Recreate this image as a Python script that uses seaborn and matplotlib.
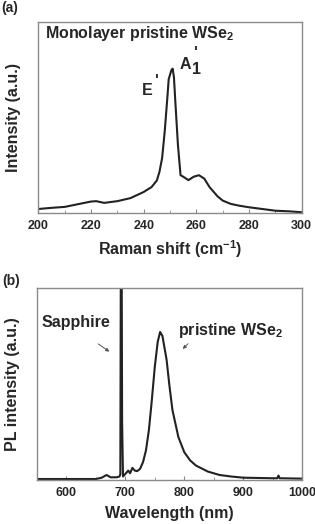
import numpy as np
import pandas as pd
import matplotlib
matplotlib.use("Agg")
import matplotlib.pyplot as plt
import seaborn as sns
from matplotlib.ticker import MultipleLocator

# Raman spectrum (panel a), intensity in arbitrary units
raman_shift = [200, 205, 210, 215, 220, 222, 225, 230, 235, 240, 243, 245, 246, 247,
               248, 249, 249.5, 250.5, 251, 251.5, 252, 253, 254, 255, 257, 259, 261,
               263, 265, 268, 270, 273, 276, 280, 285, 290, 295, 300]
raman_int = [2.1, 2.7, 3.2, 4.6, 6.0, 6.2, 5.3, 6.2, 7.8, 11.0, 13.6, 17.0, 21.6, 28.7,
             42.8, 60.5, 70.0, 74.7, 75.6, 71.0, 58.8, 35.8, 19.8, 19.0, 17.2, 19.0, 19.8,
             18.0, 13.6, 8.8, 6.5, 4.8, 3.9, 3.0, 2.1, 1.2, 0.9, 0.4]

# PL spectrum (panel b)
wavelength = [550, 600, 650, 660, 668, 675, 685, 690, 691.5, 692.5, 693.5, 694.5, 696,
              700, 705, 708, 712, 716, 720, 725, 730, 735, 740, 745, 750, 755, 759, 763,
              770, 775, 780, 790, 800, 810, 820, 840, 860, 880, 900, 950, 958, 960, 962,
              1000]
pl_int = [0.5, 0.5, 0.5, 1.2, 2.6, 1.4, 1.4, 1.8, 3.0, 140, 140, 30, 1.8,
          3.2, 4.9, 3.5, 6.3, 4.9, 4.6, 5.8, 9.3, 15.4, 26.0, 41.7, 59.0, 72.0, 77.1, 75.0,
          62.7, 48.7, 36.4, 22.4, 14.5, 10.2, 7.5, 4.4, 2.6, 1.8, 1.2, 0.9, 0.9, 2.3, 0.9,
          0.7]

df_a = pd.DataFrame({"shift": raman_shift, "intensity": raman_int})
df_b = pd.DataFrame({"wl": wavelength, "intensity": pl_int})

sns.set_style("ticks")
plt.rcParams["font.family"] = ["Liberation Sans", "DejaVu Sans"]
plt.rcParams["font.weight"] = "bold"
plt.rcParams["mathtext.fontset"] = "custom"
plt.rcParams["mathtext.rm"] = "Liberation Sans:bold"
plt.rcParams["mathtext.bf"] = "Liberation Sans:bold"
plt.rcParams["mathtext.it"] = "Liberation Sans:bold"
plt.rcParams["mathtext.default"] = "bf"

fig = plt.figure(figsize=(3.15, 5.24), dpi=100)
ax1 = fig.add_axes([0.1216, 0.5935, 0.8362, 0.3645])
ax2 = fig.add_axes([0.1175, 0.084, 0.8413, 0.3664])

line_col = "#222222"
spine_col = "#8a8a8a"
fs = 11.5

sns.lineplot(data=df_a, x="shift", y="intensity", ax=ax1, color=line_col, lw=1.5)
sns.lineplot(data=df_b, x="wl", y="intensity", ax=ax2, color=line_col, lw=1.5)

ax1.set_xlim(200, 300)
ax1.set_ylim(0, 100)
ax1.xaxis.set_major_locator(MultipleLocator(20))
ax1.xaxis.set_minor_locator(MultipleLocator(10))
ax2.set_xlim(550, 1000)
ax2.set_ylim(0, 100)
ax2.xaxis.set_major_locator(MultipleLocator(100))
ax2.xaxis.set_minor_locator(MultipleLocator(50))

for ax in (ax1, ax2):
    ax.set_yticks([])
    for s in ax.spines.values():
        s.set_color(spine_col)
        s.set_linewidth(1.0)
    ax.tick_params(axis="x", which="both", direction="in", color=spine_col, labelsize=9,
                   pad=5)
    ax.tick_params(axis="x", which="major", length=3)
    ax.tick_params(axis="x", which="minor", length=2)
    for lab in ax.get_xticklabels():
        lab.set_fontweight("bold")

ax1.set_xlabel("Raman shift (cm$^{-1}$)", fontsize=fs, fontweight="bold")
ax1.set_ylabel("Intensity (a.u.)", fontsize=fs, fontweight="bold")
ax2.set_xlabel("Wavelength (nm)", fontsize=fs, fontweight="bold")
ax2.set_ylabel("PL intensity (a.u.)", fontsize=fs, fontweight="bold")
ax1.xaxis.set_label_coords(0.5, -0.19)
ax2.xaxis.set_label_coords(0.5, -0.175)
ax1.yaxis.set_label_coords(-0.095, 0.5)
ax2.yaxis.set_label_coords(-0.094, 0.5)
for ax in (ax1, ax2):
    ax.xaxis.label.set_va("center")
    ax.yaxis.label.set_va("center")

# panel (a) labels
ax1.text(202.5, 91.6, "Monolayer pristine WSe$_2$", fontsize=fs, fontweight="bold",
         va="baseline", ha="left")
ax1.text(241.3, 61.9, "E", fontsize=fs, fontweight="bold", ha="center", va="baseline")
ax1.text(244.9, 66.4, "'", fontsize=fs, fontweight="bold", ha="center", va="baseline")
ax1.text(256.0, 75.4, "A", fontsize=fs, fontweight="bold", ha="center", va="baseline")
ax1.text(260.1, 72.7, "1", fontsize=fs, fontweight="bold", ha="center", va="baseline")
ax1.text(259.8, 81.0, "'", fontsize=fs, fontweight="bold", ha="center", va="baseline")

# panel (b) labels
ax2.text(616, 79.8, "Sapphire", fontsize=fs, fontweight="bold", ha="center", va="baseline")
ax2.annotate("", xy=(676.8, 66.0), xytext=(650, 71.7),
             arrowprops=dict(arrowstyle="-|>", color="#555555", lw=0.7, mutation_scale=5))
ax2.text(877.7, 75.5, "pristine WSe$_2$", fontsize=fs, fontweight="bold",
         ha="center", va="baseline")
ax2.annotate("", xy=(794, 67.2), xytext=(809.8, 72.0),
             arrowprops=dict(arrowstyle="-|>", color="#555555", lw=0.7, mutation_scale=5))

fig.text(0.003, 0.998, "(a)", fontsize=10, fontweight="bold", ha="left", va="top")
fig.text(0.008, 0.477, "(b)", fontsize=10, fontweight="bold", ha="left", va="top")

fig.savefig("out.png", dpi=100)
